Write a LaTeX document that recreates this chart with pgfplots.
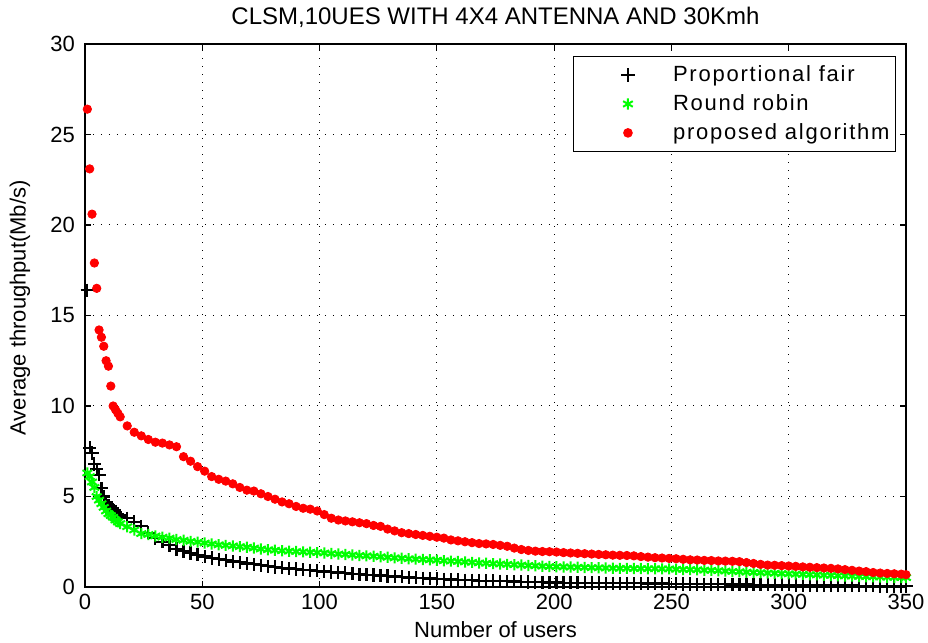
\documentclass[border=0pt]{standalone}
\usepackage{fontspec}
\setmainfont{Liberation Sans}
\usepackage{pgfplots}
\pgfplotsset{compat=1.18}
\definecolor{mlgreen}{RGB}{0,255,0}
\definecolor{mlred}{RGB}{255,0,0}
\pgfplotsset{
  mlmarks/.style={only marks,
    legend image code/.code={\path (0pt,-2pt) (45.5pt,2pt); \draw[##1] plot coordinates {(25.5pt,0pt)};}},
}
\begin{document}
\begin{tikzpicture}
\useasboundingbox (-42.5pt,-28pt) rectangle (421.5pt,293.5pt);
\begin{axis}[
  scale only axis,
  width=410.5pt, height=271.5pt,
  at={(0,0)}, anchor=south west,
  xmin=0, xmax=350, ymin=0, ymax=30,
  xtick={0,50,...,350}, ytick={0,5,...,30},
  grid=major,
  grid style={black, line width=0.5pt, dash pattern=on 0.5pt off 3.5pt},
  tick align=inside, major tick length=3pt,
  axis line style={black, line width=0.6pt},
  tick style={black, line width=0.6pt},
  ticklabel style={font=\fontsize{11}{13}\selectfont},
  yticklabel style={xshift=-1.5pt},
  /pgf/number format/assume math mode=true,
  every axis title shift=0pt,
  title={CLSM,10UES WITH 4X4 ANTENNA AND 30Kmh},
  title style={font=\fontsize{12}{14}\selectfont, at={(axis description cs:0.5,1.0497)}, anchor=center},
  xlabel={Number of users},
  xlabel style={font=\fontsize{11}{13}\selectfont, at={(axis description cs:0.5,-0.0792)}, anchor=center},
  ylabel={Average throughput(Mb/s)},
  ylabel style={font=\fontsize{11}{13}\selectfont, at={(axis description cs:-0.0792,0.514)}, anchor=center},
  legend style={at={(0.988,0.978)}, anchor=north east, draw=black, line width=0.6pt,
    font=\fontsize{11}{13}\selectfont\addfontfeatures{LetterSpace=8}, inner xsep=1pt, inner ysep=2.5pt, row sep=1pt},
  legend cell align=left,
]
% Proportional fair
\addplot[mlmarks, mark=+, mark size=3.3pt, black, line width=1.1pt] coordinates {
(1,16.4) (2,7.7) (3,7.4) (4,6.8) (5,6.5) (6,6.2) (7,5.45) (8,5.0) (9,4.7) (10,4.5)
(11,4.35) (12,4.25) (13,4.15) (14,4.05) (15,3.95) (18,3.8) (21,3.6) (24,3.35) (27,3.0) (30,2.7)
(33,2.5) (36,2.3) (39,2.1) (42,1.98) (45,1.88) (48,1.78) (51,1.68) (54,1.6) (57,1.53) (60,1.47)
(63,1.41) (66,1.36) (69,1.3) (72,1.25) (75,1.2) (78,1.14) (81,1.1) (84,1.06) (87,1.02) (90,0.99)
(93,0.96) (96,0.92) (99,0.89) (102,0.86) (105,0.83) (108,0.8) (111,0.77) (114,0.74) (117,0.71) (120,0.68)
(123,0.66) (126,0.64) (129,0.61) (132,0.58) (135,0.56) (138,0.53) (141,0.51) (144,0.49) (147,0.47) (150,0.45)
(153,0.43) (156,0.41) (159,0.4) (162,0.38) (165,0.37) (168,0.35) (171,0.34) (174,0.33) (177,0.32) (180,0.31)
(183,0.3) (186,0.29) (189,0.28) (192,0.27) (195,0.26) (198,0.25) (201,0.25) (204,0.24) (207,0.24) (210,0.23)
(213,0.23) (216,0.22) (219,0.22) (222,0.21) (225,0.21) (228,0.21) (231,0.2) (234,0.2) (237,0.2) (240,0.19)
(243,0.19) (246,0.19) (249,0.18) (252,0.18) (255,0.17) (258,0.17) (261,0.16) (264,0.16) (267,0.15) (270,0.15)
(273,0.15) (276,0.14) (279,0.14) (282,0.14) (285,0.13) (288,0.13) (291,0.13) (294,0.12) (297,0.12) (300,0.12)
(303,0.11) (306,0.11) (309,0.1) (312,0.1) (315,0.1) (318,0.09) (321,0.09) (324,0.08) (327,0.08) (330,0.07)
(333,0.07) (336,0.07) (339,0.06) (342,0.06) (345,0.05) (348,0.05) (350,0.05)
};
\addlegendentry{Proportional fair}
% Round robin
\addplot[mlmarks, mark=asterisk, mark size=2.8pt, mlgreen, line width=1pt] coordinates {
(1,6.3) (2,6.1) (3,5.8) (4,5.5) (5,5.0) (6,4.8) (7,4.6) (8,4.4) (9,4.2) (10,4.05)
(11,3.95) (12,3.85) (13,3.7) (14,3.6) (15,3.5) (18,3.33) (21,3.15) (24,2.95) (27,2.9) (30,2.82)
(33,2.75) (36,2.7) (39,2.62) (42,2.58) (45,2.52) (48,2.48) (51,2.43) (54,2.38) (57,2.33) (60,2.3)
(63,2.27) (66,2.23) (69,2.2) (72,2.15) (75,2.1) (78,2.06) (81,2.03) (84,2.0) (87,1.98) (90,1.96)
(93,1.94) (96,1.92) (99,1.9) (102,1.88) (105,1.85) (108,1.82) (111,1.8) (114,1.77) (117,1.74) (120,1.72)
(123,1.7) (126,1.67) (129,1.64) (132,1.61) (135,1.59) (138,1.56) (141,1.54) (144,1.52) (147,1.5) (150,1.48)
(153,1.45) (156,1.43) (159,1.41) (162,1.38) (165,1.36) (168,1.33) (171,1.31) (174,1.29) (177,1.27) (180,1.25)
(183,1.23) (186,1.21) (189,1.19) (192,1.17) (195,1.15) (198,1.13) (201,1.12) (204,1.11) (207,1.1) (210,1.09)
(213,1.08) (216,1.07) (219,1.06) (222,1.05) (225,1.04) (228,1.03) (231,1.03) (234,1.02) (237,1.02) (240,1.01)
(243,1.01) (246,1.0) (249,1.0) (252,0.98) (255,0.97) (258,0.96) (261,0.95) (264,0.93) (267,0.92) (270,0.9)
(273,0.88) (276,0.86) (279,0.84) (282,0.82) (285,0.8) (288,0.79) (291,0.77) (294,0.76) (297,0.74) (300,0.73)
(303,0.71) (306,0.7) (309,0.68) (312,0.67) (315,0.65) (318,0.64) (321,0.62) (324,0.61) (327,0.6) (330,0.58)
(333,0.57) (336,0.56) (339,0.55) (342,0.54) (345,0.53) (348,0.52) (350,0.52)
};
\addlegendentry{Round robin}
% proposed algorithm
\addplot[mlmarks, mark=*, mark size=2.1pt, mlred, mark options={draw=mlred, fill=mlred}] coordinates {
(1,26.4) (2,23.1) (3,20.6) (4,17.9) (5,16.5) (6,14.2) (7,13.8) (8,13.3) (9,12.5) (10,12.2)
(11,11.1) (12,10.0) (13,9.8) (14,9.6) (15,9.4) (18,8.9) (21,8.55) (24,8.35) (27,8.15) (30,8.0)
(33,7.95) (36,7.85) (39,7.75) (42,7.2) (45,6.95) (48,6.65) (51,6.4) (54,6.1) (57,5.95) (60,5.85)
(63,5.7) (66,5.5) (69,5.35) (72,5.3) (75,5.15) (78,5.0) (81,4.85) (84,4.7) (87,4.6) (90,4.45)
(93,4.35) (96,4.3) (99,4.2) (102,4.0) (105,3.8) (108,3.7) (111,3.65) (114,3.6) (117,3.55) (120,3.5)
(123,3.4) (126,3.35) (129,3.2) (132,3.1) (135,3.0) (138,2.95) (141,2.9) (144,2.85) (147,2.8) (150,2.75)
(153,2.7) (156,2.6) (159,2.55) (162,2.5) (165,2.45) (168,2.4) (171,2.38) (174,2.35) (177,2.3) (180,2.25)
(183,2.15) (186,2.07) (189,2.02) (192,1.98) (195,1.96) (198,1.95) (201,1.93) (204,1.9) (207,1.88) (210,1.86)
(213,1.84) (216,1.82) (219,1.8) (222,1.78) (225,1.76) (228,1.75) (231,1.74) (234,1.72) (237,1.68) (240,1.65)
(243,1.62) (246,1.6) (249,1.58) (252,1.56) (255,1.53) (258,1.5) (261,1.49) (264,1.47) (267,1.46) (270,1.44)
(273,1.43) (276,1.42) (279,1.4) (282,1.35) (285,1.3) (288,1.25) (291,1.21) (294,1.2) (297,1.18) (300,1.16)
(303,1.14) (306,1.11) (309,1.09) (312,1.07) (315,1.05) (318,1.03) (321,1.0) (324,0.96) (327,0.92) (330,0.88)
(333,0.85) (336,0.8) (339,0.77) (342,0.75) (345,0.73) (348,0.71) (350,0.68)
};
\addlegendentry{proposed algorithm}
\end{axis}
\end{tikzpicture}
\end{document}
